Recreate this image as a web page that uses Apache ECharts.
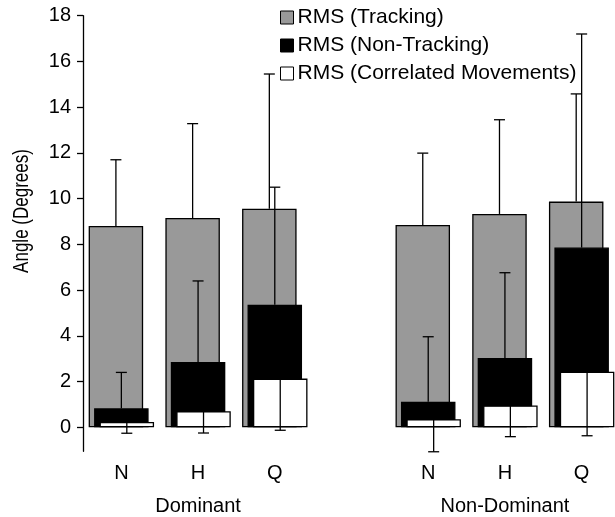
<!DOCTYPE html>
<html>
<head>
<meta charset="utf-8">
<script src="https://cdn.jsdelivr.net/npm/echarts@6/dist/echarts.min.js"></script>
<style>
  html, body { margin: 0; padding: 0; background: #fff; }
  #chart { width: 615px; height: 517px; }
</style>
</head>
<body>
<div id="chart"></div>
<script>
// Conditions (an empty slot separates the two hands)
const categories = ['N', 'H', 'Q', '', 'N', 'H', 'Q'];
const groupLabels = ['', 'Dominant', '', '', '', 'Non-Dominant', ''];

// RMS angle means and standard deviations (degrees)
const trackingMean    = [8.80, 9.15, 9.56, null, 8.85, 9.33, 9.87];
const trackingSD      = [2.90, 4.13, 5.89, null, 3.14, 4.12, 4.71];
const nonTrackingMean = [0.83, 2.86, 5.36, null, 1.12, 3.03, 7.86];
const nonTrackingSD   = [1.57, 3.54, 5.14, null, 2.84, 3.73, 9.34];
const correlatedMean  = [0.23, 0.70, 2.13, null, 0.35, 0.95, 2.43];
const correlatedSD    = [0.49, 0.95, 2.26, null, 1.42, 1.36, 2.80];

const yTicks = [0, 2, 4, 6, 8, 10, 12, 14, 16, 18];
const yTitle = 'Angle (Degrees)';

const seriesNames = ['RMS (Tracking)', 'RMS (Non-Tracking)', 'RMS (Correlated Movements)'];

const FONT = '"Liberation Sans", Arial, Helvetica, sans-serif';
const FONT_SIZE = 20;
const BAR_W = 54.5;
const BAR_GAP = -0.9;                       // bars overlap, each shifted slightly right
const SHIFT = BAR_W * (1 + BAR_GAP);        // horizontal step between overlapping bars
const CAP = 5.5;                            // half width of error-bar caps

function barData(arr) {
  return arr.map(v => (v == null ? '-' : v));
}

function errorSeries(name, means, sds, dir, offset) {
  const data = [];
  means.forEach((m, i) => { if (m != null) data.push([i, m, sds[i]]); });
  return {
    type: 'custom',
    name: name,
    xAxisIndex: 0,
    yAxisIndex: 0,
    z: 5,
    silent: true,
    encode: { x: 0, y: 1 },
    data: data,
    renderItem: function (params, api) {
      const i = api.value(0), m = api.value(1), sd = api.value(2);
      const p0 = api.coord([i, m]);
      const p1 = api.coord([i, m + dir * sd]);
      const x = p0[0] + offset;
      const st = { stroke: '#000', lineWidth: 1.3 };
      return {
        type: 'group',
        children: [
          { type: 'line', shape: { x1: x, y1: p0[1], x2: x, y2: p1[1] }, style: st },
          { type: 'line', shape: { x1: x - CAP, y1: p1[1], x2: x + CAP, y2: p1[1] }, style: st }
        ]
      };
    }
  };
}

const chart = echarts.init(document.getElementById('chart'), null, { renderer: 'canvas' });

chart.setOption({
  animation: false,
  backgroundColor: '#fff',
  textStyle: { fontFamily: FONT, color: '#000' },
  legend: {
    data: seriesNames,
    orient: 'vertical',
    left: 280,
    top: 7,
    padding: 0,
    itemWidth: 13,
    itemHeight: 13,
    itemGap: 7,
    icon: 'rect',
    selectedMode: false,
    itemStyle: { borderColor: '#000', borderWidth: 1 },
    textStyle: { fontFamily: FONT, fontSize: 21, color: '#000', lineHeight: 20, padding: [0, 0, 0, -1] }
  },
  // vertical axis title, slightly widened glyphs
  graphic: [{
    type: 'text',
    x: 22,
    y: 211,
    rotation: Math.PI / 2,
    scaleY: 1.3,
    silent: true,
    style: {
      text: yTitle,
      fontFamily: FONT,
      fontSize: 17,
      fill: '#000',
      align: 'center',
      verticalAlign: 'middle'
    }
  }],
  grid: {
    left: 83,
    right: -5,
    top: 15.7,
    bottom: 65.7,
    outerBoundsMode: 'none',
    containLabel: false
  },
  xAxis: [
    {
      type: 'category',
      data: categories,
      position: 'bottom',
      axisLine: { show: false },
      axisTick: { show: false },
      axisLabel: { interval: 0, margin: 12, fontFamily: FONT, fontSize: FONT_SIZE, color: '#000' }
    },
    {
      type: 'category',
      data: groupLabels,
      position: 'bottom',
      axisLine: { show: false },
      axisTick: { show: false },
      axisLabel: { interval: 0, margin: 45, fontFamily: FONT, fontSize: FONT_SIZE, color: '#000' }
    }
  ],
  yAxis: {
    type: 'value',
    min: -1.05,
    max: 18,
    splitLine: { show: false },
    axisLine: { show: true, lineStyle: { color: '#000', width: 1.3 } },
    axisTick: { show: true, inside: false, length: 6, customValues: yTicks, lineStyle: { color: '#000', width: 1.3 } },
    axisLabel: { customValues: yTicks, margin: 12, fontFamily: FONT, fontSize: FONT_SIZE, color: '#000' }
  },
  series: [
    {
      type: 'bar',
      name: seriesNames[0],
      data: barData(trackingMean),
      barWidth: BAR_W,
      barGap: (BAR_GAP * 100) + '%',
      itemStyle: { color: '#999999', borderColor: '#000', borderWidth: 1.3 }
    },
    {
      type: 'bar',
      name: seriesNames[1],
      data: barData(nonTrackingMean),
      barWidth: BAR_W,
      barGap: (BAR_GAP * 100) + '%',
      itemStyle: { color: '#000', borderColor: '#000', borderWidth: 1.3 }
    },
    {
      type: 'bar',
      name: seriesNames[2],
      data: barData(correlatedMean),
      barWidth: BAR_W,
      barGap: (BAR_GAP * 100) + '%',
      itemStyle: { color: '#fff', borderColor: '#000', borderWidth: 1.3 }
    },
    errorSeries('Tracking SD', trackingMean, trackingSD, 1, -SHIFT),
    errorSeries('Non-Tracking SD', nonTrackingMean, nonTrackingSD, 1, 0),
    errorSeries('Correlated SD', correlatedMean, correlatedSD, -1, SHIFT)
  ]
});
</script>
</body>
</html>
